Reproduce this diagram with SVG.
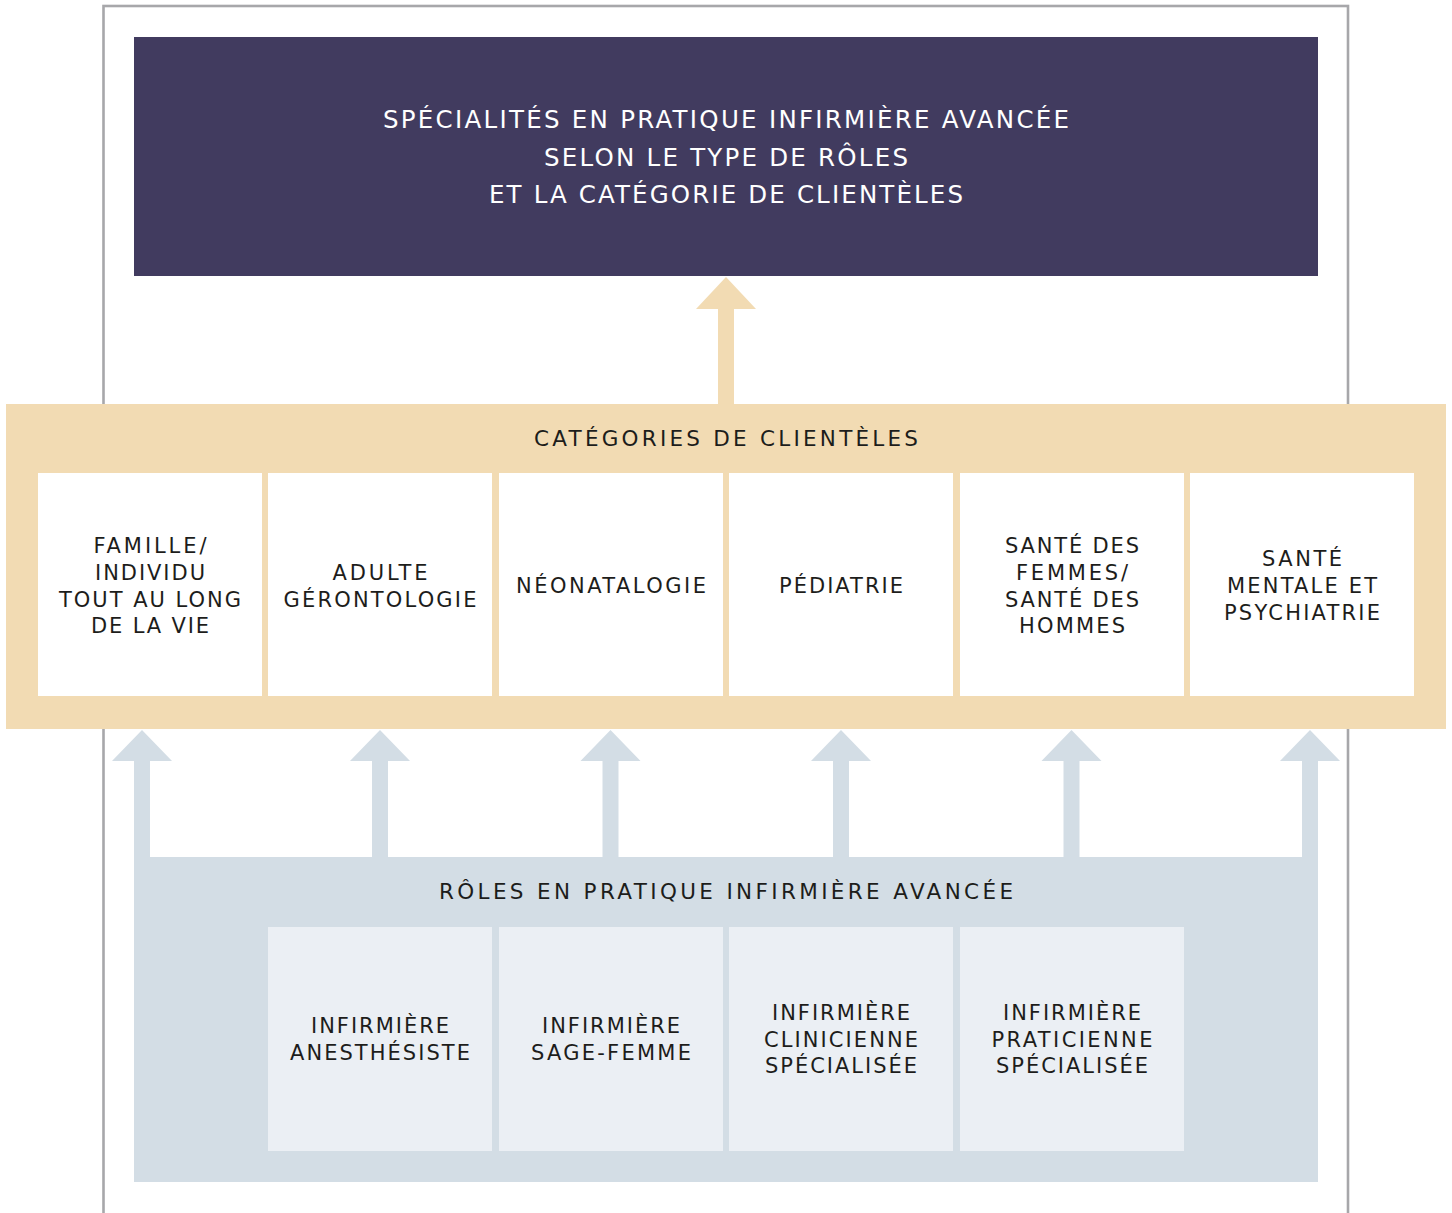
<svg xmlns="http://www.w3.org/2000/svg" width="1452" height="1213" viewBox="0 0 1452 1213">
  <style>
    .lbl { font-family: "DejaVu Sans", "Noto Sans", "Liberation Sans", sans-serif; font-size: 21px; fill: #1d1d1b; text-anchor: middle; }
    .head { font-family: "DejaVu Sans", "Noto Sans", "Liberation Sans", sans-serif; font-size: 21.5px; fill: #1d1d1b; text-anchor: middle; }
    .title { font-family: "DejaVu Sans", "Noto Sans", "Liberation Sans", sans-serif; font-size: 24.5px; fill: #ffffff; text-anchor: middle; }
    .cat { fill: #ffffff; }
    .role { fill: #ebeff4; }
    .up-beige { fill: #f2dbb3; }
    .up-blue { fill: #d3dde5; }
  </style>

  <rect width="1452" height="1213" fill="#ffffff"/>

  <!-- outer frame -->
  <rect id="frame" x="103.5" y="6" width="1244.5" height="1300" fill="none" stroke="#a7a7aa" stroke-width="2.6"/>

  <!-- title -->
  <g id="title">
    <rect x="134" y="37" width="1184" height="239" fill="#413b5f"/>
    <text class="title" x="726" y="128" textLength="686" lengthAdjust="spacing">SPÉCIALITÉS EN PRATIQUE INFIRMIÈRE AVANCÉE</text>
    <text class="title" x="726" y="165.5" textLength="364" lengthAdjust="spacing">SELON LE TYPE DE RÔLES</text>
    <text class="title" x="726" y="203" textLength="474" lengthAdjust="spacing">ET LA CATÉGORIE DE CLIENTÈLES</text>
  </g>

  <!-- connectors -->
  <g id="connectors">
    <polygon class="up-beige" points="726,277 756,309 734,309 734,406 718,406 718,309 696,309"/>
    <polygon class="up-blue" points="142,730 172,761 150,761 150,859 134,859 134,761 112,761"/>
    <polygon class="up-blue" points="380,730 410,761 388,761 388,859 372,859 372,761 350,761"/>
    <polygon class="up-blue" points="610.5,730 640.5,761 618.5,761 618.5,859 602.5,859 602.5,761 580.5,761"/>
    <polygon class="up-blue" points="841,730 871,761 849,761 849,859 833,859 833,761 811,761"/>
    <polygon class="up-blue" points="1071.5,730 1101.5,761 1079.5,761 1079.5,859 1063.5,859 1063.5,761 1041.5,761"/>
    <polygon class="up-blue" points="1310,730 1340,761 1318,761 1318,859 1302,859 1302,761 1280,761"/>
  </g>

  <!-- client categories -->
  <g id="categories">
    <rect x="6" y="404" width="1440" height="325" fill="#f2dbb3"/>
    <text class="head" x="726" y="446" textLength="384" lengthAdjust="spacing">CATÉGORIES DE CLIENTÈLES</text>
  </g>

  <g id="cat-famille">
    <rect class="cat" x="38" y="473" width="224" height="223"/>
    <text class="lbl" x="150" y="553" textLength="113" lengthAdjust="spacing">FAMILLE/</text>
    <text class="lbl" x="150" y="580" textLength="110" lengthAdjust="spacing">INDIVIDU</text>
    <text class="lbl" x="150" y="607" textLength="182" lengthAdjust="spacing">TOUT AU LONG</text>
    <text class="lbl" x="150" y="633" textLength="118" lengthAdjust="spacing">DE LA VIE</text>
  </g>
  <g id="cat-adulte">
    <rect class="cat" x="268" y="473" width="224" height="223"/>
    <text class="lbl" x="380" y="580" textLength="95" lengthAdjust="spacing">ADULTE</text>
    <text class="lbl" x="380" y="607" textLength="193" lengthAdjust="spacing">GÉRONTOLOGIE</text>
  </g>
  <g id="cat-neonatalogie">
    <rect class="cat" x="499" y="473" width="224" height="223"/>
    <text class="lbl" x="611" y="593" textLength="190" lengthAdjust="spacing">NÉONATALOGIE</text>
  </g>
  <g id="cat-pediatrie">
    <rect class="cat" x="729" y="473" width="224" height="223"/>
    <text class="lbl" x="841" y="593" textLength="124" lengthAdjust="spacing">PÉDIATRIE</text>
  </g>
  <g id="cat-sante-femmes-hommes">
    <rect class="cat" x="960" y="473" width="224" height="223"/>
    <text class="lbl" x="1072" y="553" textLength="134" lengthAdjust="spacing">SANTÉ DES</text>
    <text class="lbl" x="1072" y="580" textLength="112" lengthAdjust="spacing">FEMMES/</text>
    <text class="lbl" x="1072" y="607" textLength="134" lengthAdjust="spacing">SANTÉ DES</text>
    <text class="lbl" x="1072" y="633" textLength="106" lengthAdjust="spacing">HOMMES</text>
  </g>
  <g id="cat-sante-mentale">
    <rect class="cat" x="1190" y="473" width="224" height="223"/>
    <text class="lbl" x="1302" y="566" textLength="80" lengthAdjust="spacing">SANTÉ</text>
    <text class="lbl" x="1302" y="593" textLength="150" lengthAdjust="spacing">MENTALE ET</text>
    <text class="lbl" x="1302" y="620" textLength="156" lengthAdjust="spacing">PSYCHIATRIE</text>
  </g>

  <!-- advanced practice roles -->
  <g id="roles">
    <rect x="134" y="857" width="1184" height="325" fill="#d3dde5"/>
    <text class="head" x="726" y="899" textLength="574" lengthAdjust="spacing">RÔLES EN PRATIQUE INFIRMIÈRE AVANCÉE</text>
  </g>

  <g id="role-anesthesiste">
    <rect class="role" x="268" y="927" width="224" height="224"/>
    <text class="lbl" x="380" y="1033" textLength="138" lengthAdjust="spacing">INFIRMIÈRE</text>
    <text class="lbl" x="380" y="1060" textLength="180" lengthAdjust="spacing">ANESTHÉSISTE</text>
  </g>
  <g id="role-sage-femme">
    <rect class="role" x="499" y="927" width="224" height="224"/>
    <text class="lbl" x="611" y="1033" textLength="138" lengthAdjust="spacing">INFIRMIÈRE</text>
    <text class="lbl" x="611" y="1060" textLength="160" lengthAdjust="spacing">SAGE-FEMME</text>
  </g>
  <g id="role-clinicienne">
    <rect class="role" x="729" y="927" width="224" height="224"/>
    <text class="lbl" x="841" y="1020" textLength="138" lengthAdjust="spacing">INFIRMIÈRE</text>
    <text class="lbl" x="841" y="1047" textLength="154" lengthAdjust="spacing">CLINICIENNE</text>
    <text class="lbl" x="841" y="1073" textLength="152" lengthAdjust="spacing">SPÉCIALISÉE</text>
  </g>
  <g id="role-praticienne">
    <rect class="role" x="960" y="927" width="224" height="224"/>
    <text class="lbl" x="1072" y="1020" textLength="138" lengthAdjust="spacing">INFIRMIÈRE</text>
    <text class="lbl" x="1072" y="1047" textLength="161" lengthAdjust="spacing">PRATICIENNE</text>
    <text class="lbl" x="1072" y="1073" textLength="152" lengthAdjust="spacing">SPÉCIALISÉE</text>
  </g>
</svg>
